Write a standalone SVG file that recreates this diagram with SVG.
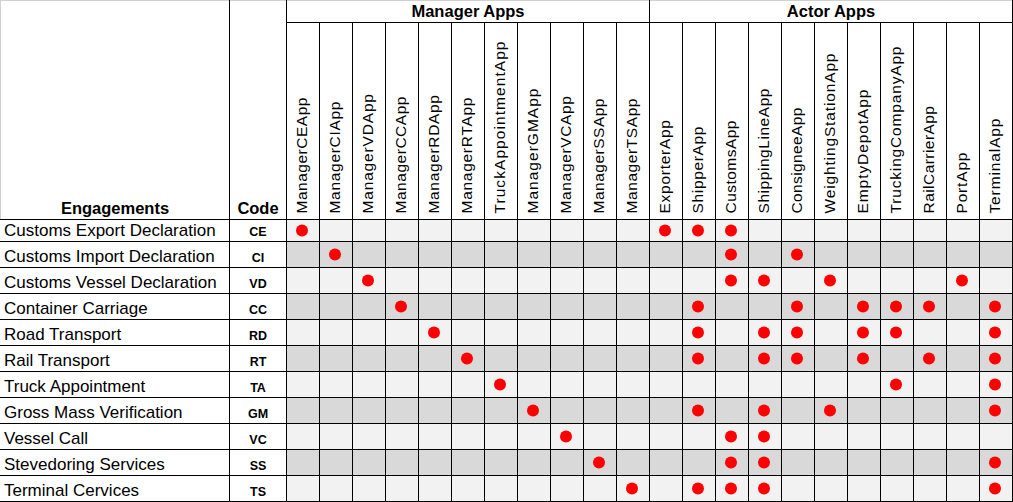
<svg xmlns="http://www.w3.org/2000/svg" xmlns:xlink="http://www.w3.org/1999/xlink" width="1013" height="502" viewBox="0 0 1013 502">
<style>
text{font-family:"Liberation Sans",Arial,sans-serif;fill:#000}
.eng{font-size:17px}
.code{font-size:12.5px;font-weight:bold;text-anchor:middle}
.hdr{font-size:16.5px;font-weight:bold;text-anchor:middle}
.app{font-size:15.5px}
.lt{fill:#f2f2f2}
.dk{fill:#d9d9d9}
.grid line{stroke:#000;stroke-width:1}
.dot{fill:#ff0000}
</style>
<defs>
<circle id="d" r="6" class="dot"/>
</defs>
<rect width="1013" height="502" fill="#fff"/>
<g id="row-fills">
<rect class="lt" x="286.5" y="219.5" width="726" height="22"/>
<rect class="dk" x="286.5" y="241.5" width="726" height="26"/>
<rect class="lt" x="286.5" y="267.5" width="726" height="26"/>
<rect class="dk" x="286.5" y="293.5" width="726" height="26"/>
<rect class="lt" x="286.5" y="319.5" width="726" height="26"/>
<rect class="dk" x="286.5" y="345.5" width="726" height="26"/>
<rect class="lt" x="286.5" y="371.5" width="726" height="26"/>
<rect class="dk" x="286.5" y="397.5" width="726" height="26"/>
<rect class="lt" x="286.5" y="423.5" width="726" height="26"/>
<rect class="dk" x="286.5" y="449.5" width="726" height="26"/>
<rect class="lt" x="286.5" y="475.5" width="726" height="26"/>
</g>
<g id="grid" class="grid">
<line x1="0" y1="0.5" x2="1013" y2="0.5" style="stroke:#d0d0d0"/>
<line x1="0.5" y1="0" x2="0.5" y2="219.5" style="stroke:#d0d0d0"/>
<line x1="286.5" y1="22.5" x2="1012.5" y2="22.5"/>
<line x1="229.5" y1="0" x2="229.5" y2="502"/>
<line x1="286.5" y1="0" x2="286.5" y2="502"/>
<line x1="649.5" y1="0" x2="649.5" y2="502"/>
<line x1="1012.5" y1="0" x2="1012.5" y2="502"/>
<line x1="319.5" y1="22.5" x2="319.5" y2="502"/>
<line x1="352.5" y1="22.5" x2="352.5" y2="502"/>
<line x1="385.5" y1="22.5" x2="385.5" y2="502"/>
<line x1="418.5" y1="22.5" x2="418.5" y2="502"/>
<line x1="451.5" y1="22.5" x2="451.5" y2="502"/>
<line x1="484.5" y1="22.5" x2="484.5" y2="502"/>
<line x1="517.5" y1="22.5" x2="517.5" y2="502"/>
<line x1="550.5" y1="22.5" x2="550.5" y2="502"/>
<line x1="583.5" y1="22.5" x2="583.5" y2="502"/>
<line x1="616.5" y1="22.5" x2="616.5" y2="502"/>
<line x1="682.5" y1="22.5" x2="682.5" y2="502"/>
<line x1="715.5" y1="22.5" x2="715.5" y2="502"/>
<line x1="748.5" y1="22.5" x2="748.5" y2="502"/>
<line x1="781.5" y1="22.5" x2="781.5" y2="502"/>
<line x1="814.5" y1="22.5" x2="814.5" y2="502"/>
<line x1="847.5" y1="22.5" x2="847.5" y2="502"/>
<line x1="880.5" y1="22.5" x2="880.5" y2="502"/>
<line x1="913.5" y1="22.5" x2="913.5" y2="502"/>
<line x1="946.5" y1="22.5" x2="946.5" y2="502"/>
<line x1="979.5" y1="22.5" x2="979.5" y2="502"/>
<line x1="0" y1="219.5" x2="1013" y2="219.5"/>
<line x1="0" y1="241.5" x2="1013" y2="241.5"/>
<line x1="0" y1="267.5" x2="1013" y2="267.5"/>
<line x1="0" y1="293.5" x2="1013" y2="293.5"/>
<line x1="0" y1="319.5" x2="1013" y2="319.5"/>
<line x1="0" y1="345.5" x2="1013" y2="345.5"/>
<line x1="0" y1="371.5" x2="1013" y2="371.5"/>
<line x1="0" y1="397.5" x2="1013" y2="397.5"/>
<line x1="0" y1="423.5" x2="1013" y2="423.5"/>
<line x1="0" y1="449.5" x2="1013" y2="449.5"/>
<line x1="0" y1="475.5" x2="1013" y2="475.5"/>
<line x1="0" y1="501.5" x2="1013" y2="501.5"/>
</g>
<g id="header">
<text class="hdr" x="115" y="213.5">Engagements</text>
<text class="hdr" x="258" y="213.5">Code</text>
<text class="hdr" x="468" y="17">Manager Apps</text>
<text class="hdr" x="831" y="17">Actor Apps</text>
</g>
<g id="app-labels">
<text class="app" transform="translate(307,213.5) rotate(-90)" textLength="116">ManagerCEApp</text>
<text class="app" transform="translate(340,213.5) rotate(-90)" textLength="112">ManagerCIApp</text>
<text class="app" transform="translate(373,213.5) rotate(-90)" textLength="119.5">ManagerVDApp</text>
<text class="app" transform="translate(406,213.5) rotate(-90)" textLength="117">ManagerCCApp</text>
<text class="app" transform="translate(439,213.5) rotate(-90)" textLength="118.5">ManagerRDApp</text>
<text class="app" transform="translate(472,213.5) rotate(-90)" textLength="116">ManagerRTApp</text>
<text class="app" transform="translate(505,213.5) rotate(-90)" textLength="172">TruckAppointmentApp</text>
<text class="app" transform="translate(538,213.5) rotate(-90)" textLength="125">ManagerGMApp</text>
<text class="app" transform="translate(571,213.5) rotate(-90)" textLength="117.5">ManagerVCApp</text>
<text class="app" transform="translate(604,213.5) rotate(-90)" textLength="115">ManagerSSApp</text>
<text class="app" transform="translate(637,213.5) rotate(-90)" textLength="115">ManagerTSApp</text>
<text class="app" transform="translate(670,213.5) rotate(-90)" textLength="93.5">ExporterApp</text>
<text class="app" transform="translate(703,213.5) rotate(-90)" textLength="87">ShipperApp</text>
<text class="app" transform="translate(736,213.5) rotate(-90)" textLength="93">CustomsApp</text>
<text class="app" transform="translate(769,213.5) rotate(-90)" textLength="125">ShippingLineApp</text>
<text class="app" transform="translate(802,213.5) rotate(-90)" textLength="106">ConsigneeApp</text>
<text class="app" transform="translate(835,213.5) rotate(-90)" textLength="160">WeightingStationApp</text>
<text class="app" transform="translate(868,213.5) rotate(-90)" textLength="124">EmptyDepotApp</text>
<text class="app" transform="translate(901,213.5) rotate(-90)" textLength="167">TruckingCompanyApp</text>
<text class="app" transform="translate(934,213.5) rotate(-90)" textLength="107.5">RailCarrierApp</text>
<text class="app" transform="translate(967,213.5) rotate(-90)" textLength="61">PortApp</text>
<text class="app" transform="translate(1000,213.5) rotate(-90)" textLength="95">TerminalApp</text>
</g>
<g id="row-CE">
<text class="eng" x="4" y="235.5">Customs Export Declaration</text>
<text class="code" x="258" y="236">CE</text>
<use xlink:href="#d" x="302" y="230.5"/><use xlink:href="#d" x="665" y="230.5"/><use xlink:href="#d" x="698" y="230.5"/><use xlink:href="#d" x="731" y="230.5"/>
</g>
<g id="row-CI">
<text class="eng" x="4" y="261.5">Customs Import Declaration</text>
<text class="code" x="258" y="262">CI</text>
<use xlink:href="#d" x="335" y="254.5"/><use xlink:href="#d" x="731" y="254.5"/><use xlink:href="#d" x="797" y="254.5"/>
</g>
<g id="row-VD">
<text class="eng" x="4" y="287.5">Customs Vessel Declaration</text>
<text class="code" x="258" y="288">VD</text>
<use xlink:href="#d" x="368" y="280.5"/><use xlink:href="#d" x="731" y="280.5"/><use xlink:href="#d" x="764" y="280.5"/><use xlink:href="#d" x="830" y="280.5"/><use xlink:href="#d" x="962" y="280.5"/>
</g>
<g id="row-CC">
<text class="eng" x="4" y="313.5">Container Carriage</text>
<text class="code" x="258" y="314">CC</text>
<use xlink:href="#d" x="401" y="306.5"/><use xlink:href="#d" x="698" y="306.5"/><use xlink:href="#d" x="797" y="306.5"/><use xlink:href="#d" x="863" y="306.5"/><use xlink:href="#d" x="896" y="306.5"/><use xlink:href="#d" x="929" y="306.5"/><use xlink:href="#d" x="995" y="306.5"/>
</g>
<g id="row-RD">
<text class="eng" x="4" y="339.5">Road Transport</text>
<text class="code" x="258" y="340">RD</text>
<use xlink:href="#d" x="434" y="332.5"/><use xlink:href="#d" x="698" y="332.5"/><use xlink:href="#d" x="764" y="332.5"/><use xlink:href="#d" x="797" y="332.5"/><use xlink:href="#d" x="863" y="332.5"/><use xlink:href="#d" x="896" y="332.5"/><use xlink:href="#d" x="995" y="332.5"/>
</g>
<g id="row-RT">
<text class="eng" x="4" y="365.5">Rail Transport</text>
<text class="code" x="258" y="366">RT</text>
<use xlink:href="#d" x="467" y="358.5"/><use xlink:href="#d" x="698" y="358.5"/><use xlink:href="#d" x="764" y="358.5"/><use xlink:href="#d" x="797" y="358.5"/><use xlink:href="#d" x="863" y="358.5"/><use xlink:href="#d" x="929" y="358.5"/><use xlink:href="#d" x="995" y="358.5"/>
</g>
<g id="row-TA">
<text class="eng" x="4" y="391.5">Truck Appointment</text>
<text class="code" x="258" y="392">TA</text>
<use xlink:href="#d" x="500" y="384.5"/><use xlink:href="#d" x="896" y="384.5"/><use xlink:href="#d" x="995" y="384.5"/>
</g>
<g id="row-GM">
<text class="eng" x="4" y="417.5">Gross Mass Verification</text>
<text class="code" x="258" y="418">GM</text>
<use xlink:href="#d" x="533" y="410.5"/><use xlink:href="#d" x="698" y="410.5"/><use xlink:href="#d" x="764" y="410.5"/><use xlink:href="#d" x="830" y="410.5"/><use xlink:href="#d" x="995" y="410.5"/>
</g>
<g id="row-VC">
<text class="eng" x="4" y="443.5">Vessel Call</text>
<text class="code" x="258" y="444">VC</text>
<use xlink:href="#d" x="566" y="436.5"/><use xlink:href="#d" x="731" y="436.5"/><use xlink:href="#d" x="764" y="436.5"/>
</g>
<g id="row-SS">
<text class="eng" x="4" y="469.5">Stevedoring Services</text>
<text class="code" x="258" y="470">SS</text>
<use xlink:href="#d" x="599" y="462.5"/><use xlink:href="#d" x="731" y="462.5"/><use xlink:href="#d" x="764" y="462.5"/><use xlink:href="#d" x="995" y="462.5"/>
</g>
<g id="row-TS">
<text class="eng" x="4" y="495.5">Terminal Cervices</text>
<text class="code" x="258" y="496">TS</text>
<use xlink:href="#d" x="632" y="488.5"/><use xlink:href="#d" x="698" y="488.5"/><use xlink:href="#d" x="731" y="488.5"/><use xlink:href="#d" x="764" y="488.5"/><use xlink:href="#d" x="995" y="488.5"/>
</g>
</svg>
